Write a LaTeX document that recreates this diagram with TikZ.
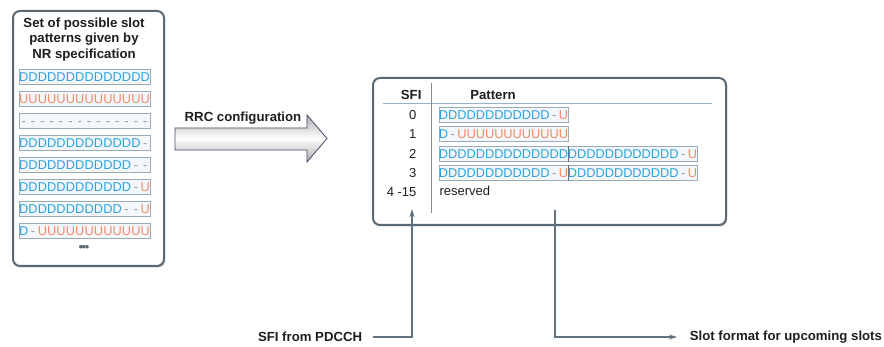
\documentclass[tikz,border=0pt]{standalone}
\usepackage{fontspec}
\setmainfont{Liberation Sans}
\usetikzlibrary{arrows.meta,shadows}
\definecolor{dblue}{HTML}{2AA4E0}
\definecolor{uorange}{HTML}{F08C6A}
\definecolor{xgray}{HTML}{8A98A4}
\definecolor{panelline}{HTML}{5B6974}
\definecolor{connline}{HTML}{62727E}
\definecolor{boxline}{HTML}{9AABB8}
\definecolor{boxfill}{HTML}{F4F7F9}
\definecolor{hlinecol}{HTML}{93B3C9}
\definecolor{txt}{HTML}{1E1E1E}

\newcommand{\glyphD}{D}
\newcommand{\glyphU}{U}
\newcommand{\glyphX}{-}
\newcommand{\slotpattern}[5]{%
  \node[patbox, minimum width={14*#4*1pt}, anchor=west] (#1) at (#2,#3) {};
  \foreach \c [count=\i] in {#5} {
    \node[glyph, sym\c] (#1-\i) at ({#2+(\i-0.5)*#4},{#3+4.6}) {\csname glyph\c\endcsname};
  }
}

\tikzset{
  panel/.style={draw=panelline, line width=2pt, rounded corners=7pt, fill=white,
    drop shadow={shadow xshift=1.2pt, shadow yshift=-1.5pt, fill=black, opacity=0.22}},
  patbox/.style={draw=boxline, fill=boxfill, line width=0.8pt, minimum height=14.5pt, inner sep=0pt},
  glyph/.style={inner sep=0pt, anchor=base, font=\fontsize{12.8}{12.8}\selectfont},
  symD/.style={text=dblue},
  symU/.style={text=uorange},
  symX/.style={text=xgray},
  bold13/.style={font=\fontsize{13.2}{15.5}\selectfont\bfseries, text=txt},
  reg13/.style={font=\fontsize{13}{15.5}\selectfont, text=txt},
  conn/.style={draw=connline, line width=1.2pt, -{Stealth[length=8pt,width=5pt]}},
  rrcarrow/.style={draw=gray!80!blue!70!black, line width=0.8pt, top color=gray!65, bottom color=gray!65, middle color=white},
}

\begin{document}
\begin{tikzpicture}[x=1pt,y=-1pt]
\fill[white] (0,0) rectangle (884,347);
\useasboundingbox (0,0) rectangle (884,347);

% left panel
\node[panel, minimum width=151, minimum height=255, anchor=north west] (setpanel) at (12,10) {};
\node[bold13, align=center, inner sep=0pt] (settitle) at (84,39.5) {Set of possible slot\\patterns given by\\NR specification};
\slotpattern{l1}{19}{77}{9.357}{D,D,D,D,D,D,D,D,D,D,D,D,D,D}
\slotpattern{l2}{19}{99}{9.357}{U,U,U,U,U,U,U,U,U,U,U,U,U,U}
\slotpattern{l3}{19}{121}{9.357}{X,X,X,X,X,X,X,X,X,X,X,X,X,X}
\slotpattern{l4}{19}{143}{9.357}{D,D,D,D,D,D,D,D,D,D,D,D,D,X}
\slotpattern{l5}{19}{165}{9.357}{D,D,D,D,D,D,D,D,D,D,D,D,X,X}
\slotpattern{l6}{19}{187}{9.357}{D,D,D,D,D,D,D,D,D,D,D,D,X,U}
\slotpattern{l7}{19}{209}{9.357}{D,D,D,D,D,D,D,D,D,D,D,X,X,U}
\slotpattern{l8}{19}{231}{9.357}{D,X,U,U,U,U,U,U,U,U,U,U,U,U}
\node[text=panelline, font=\fontsize{13}{13}\selectfont, inner sep=0pt] (ldots) at (84,248) {\textbullet\kern-1.5pt\textbullet\kern-1.5pt\textbullet};

% RRC arrow
\draw[rrcarrow] (175,128) -- (307,128) -- (307,115) -- (327,138.5) -- (307,162) -- (307,150) -- (175,150) -- cycle;
\node[bold13] (rrclbl) at (243,118) {RRC configuration};

% table panel
\node[panel, minimum width=353, minimum height=147, anchor=north west] (sfipanel) at (372,77) {};
\draw[hlinecol, line width=0.8pt] (383,103) -- (712,103);
\draw[connline!80, line width=0.8pt] (431,83) -- (431,213);
\node[bold13, anchor=east] (hsfi) at (425,95) {SFI};
\node[bold13] (hpat) at (493,95) {Pattern};
\node[reg13, anchor=east] (n0) at (420,115) {0};
\node[reg13, anchor=east] (n1) at (420,134) {1};
\node[reg13, anchor=east] (n2) at (420,154) {2};
\node[reg13, anchor=east] (n3) at (420,173) {3};
\node[reg13, anchor=east] (n4) at (420,192) {4 -15};
\node[reg13, anchor=west] (nres) at (436,191) {reserved};
\slotpattern{t0}{439}{115}{9.214}{D,D,D,D,D,D,D,D,D,D,D,D,X,U}
\slotpattern{t1}{439}{134}{9.214}{D,X,U,U,U,U,U,U,U,U,U,U,U,U}
\slotpattern{t2a}{439}{154}{9.214}{D,D,D,D,D,D,D,D,D,D,D,D,D,D}
\slotpattern{t2b}{568}{154}{9.214}{D,D,D,D,D,D,D,D,D,D,D,D,X,U}
\slotpattern{t3a}{439}{173}{9.214}{D,D,D,D,D,D,D,D,D,D,D,D,X,U}
\slotpattern{t3b}{568}{173}{9.214}{D,D,D,D,D,D,D,D,D,D,D,D,X,U}
\draw[connline, line width=0.9pt] (t2a.north east) -- (t2a.south east);
\draw[connline, line width=0.9pt] (t3a.north east) -- (t3a.south east);

% connectors
\coordinate (sfiin) at (412,209);
\coordinate (patout) at (555,210);
\node[bold13, anchor=east, outer xsep=7.5pt] (sfisrc) at (373,337) {SFI from PDCCH};
\node[bold13, anchor=west, outer xsep=9.5pt] (slotfmt) at (677,337) {Slot format for upcoming slots};
\draw[conn] (sfisrc.east) -| (sfiin);
\draw[conn] (patout) |- (slotfmt.west);
\end{tikzpicture}
\end{document}
